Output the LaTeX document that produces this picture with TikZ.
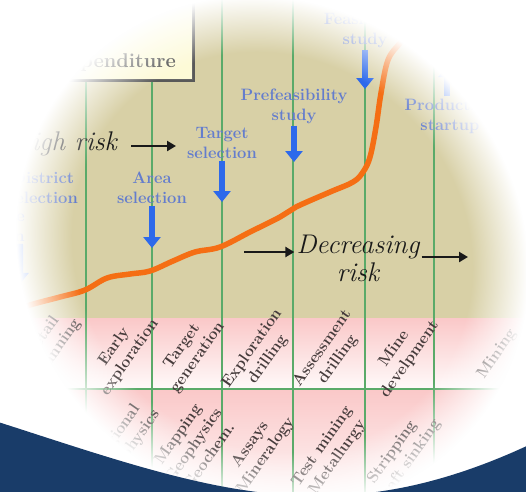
\documentclass[tikz,border=0pt]{standalone}
\usepackage{fontspec}
\usepackage{xcolor}
\usetikzlibrary{arrows.meta,fadings,shadows}

\definecolor{khaki}{RGB}{216,208,166}
\definecolor{cellpink}{RGB}{250,200,200}
\definecolor{gridgreen}{RGB}{90,170,105}
\definecolor{labelblue}{RGB}{100,125,205}
\definecolor{arrowblue}{RGB}{45,105,235}
\definecolor{curveorange}{RGB}{245,110,20}
\definecolor{slidenavy}{RGB}{25,60,105}
\definecolor{boxcream}{RGB}{253,250,215}
\definecolor{stagegray}{RGB}{70,60,60}

\pgfdeclareradialshading{vignshade}{\pgfpointorigin}{color(0bp)=(black); color(19.5bp)=(black); color(25bp)=(white); color(50bp)=(white)}
\pgfdeclarefading{vign}{\pgfuseshading{vignshade}}

\tikzset{
  gridline/.style   = {draw=gridgreen, line width=1.6pt},
  notebox/.style    = {fill=boxcream, draw=black!60, line width=0.8pt,
                       drop shadow={shadow xshift=2pt, shadow yshift=-2pt, fill=black!65, opacity=1}},
  boxtext/.style    = {font=\fontsize{20}{24}\selectfont\bfseries, text=black!70, inner sep=0pt},
  bluelabel/.style  = {font=\fontsize{16.5}{20}\selectfont\bfseries, text=labelblue, align=center, inner sep=2pt},
  bluearrow/.style  = {draw=arrowblue, line width=6.5pt, -{Triangle[width=17pt,length=11pt]}},
  risktext/.style   = {font=\fontsize{27}{28}\selectfont\itshape, text=black!90, align=center, inner sep=2pt},
  riskarrow/.style  = {draw=black!90, line width=2.8pt, -{Triangle[width=10pt,length=9pt]}},
  riskcurve/.style  = {draw=curveorange, line width=5.5pt, line cap=round},
  stagelabel/.style = {font=\fontsize{16}{19}\selectfont\bfseries, text=stagegray, align=center, rotate=55}
}

\begin{document}
\begin{tikzpicture}[x=1pt, y=-1pt]
  \useasboundingbox (0,0) rectangle (526,491);
  \fill[khaki] (-10,-10) rectangle (536,318);
  \shade[top color=cellpink, bottom color=white!90!cellpink] (-10,318) rectangle (536,389);
  \shade[top color=cellpink, bottom color=white!85!cellpink] (-10,389) rectangle (536,501);
  %% stage columns
  \foreach \x in {86,152,222,293,365,434}
    \draw[gridline] (\x,-10) -- (\x,501);
  \draw[gridline] (-10,389) -- (536,389);

  \node[notebox, anchor=south east, minimum width=150pt, minimum height=100pt] (expbox) at (193,80) {};
  \node[boxtext, anchor=base east] (expend) at (176,67) {expenditure};

  \draw[riskcurve] plot[smooth, tension=0.6] coordinates {(5,314) (30,305) (60,297) (85,290) (107,278)
    (130,274) (150,271) (173,261) (195,252) (220,247) (250,232) (280,217) (296,207) (330,192)
    (353,182) (363,172) (370,157) (376,127) (381,93) (388,60) (400,43) (412,28)};

  \node[bluelabel] (district) at (43,188) {District\\selection};
  \node[bluelabel, anchor=east, align=right] (province) at (27,228) {e\\n};
  \node[bluelabel] (area) at (152,188) {Area\\selection};
  \node[bluelabel] (target) at (222,143) {Target\\selection};
  \node[bluelabel] (prefeas) at (294,106) {Prefeasibility\\study};
  \node[bluelabel] (feas) at (365,30) {Feasibility\\study};
  \node[bluelabel] (prod) at (450,116) {Production\\startup};
  \coordinate (provtip) at (20,284);
  \coordinate (areatip) at (152,248);
  \coordinate (targettip) at (222,202);
  \coordinate (prefeastip) at (294,162);
  \coordinate (feastip) at (365,89);
  \coordinate (prodtip) at (447,66);
  \draw[bluearrow] (province) -- (provtip);
  \draw[bluearrow] (area) -- (areatip);
  \draw[bluearrow] (target) -- (targettip);
  \draw[bluearrow] (prefeas) -- (prefeastip);
  \draw[bluearrow] (feas) -- (feastip);
  \draw[bluearrow] (prodtip |- prod.north) -- (prodtip);

  \node[risktext, anchor=base east] (highrisk) at (119,150) {High risk};
  \node[risktext] (decr) at (358,258) {Decreasing\\risk};
  \coordinate (hrtip) at (176,146);
  \coordinate (decrtail) at (244,252);
  \coordinate (decrtip) at (468,257);
  \draw[riskarrow, shorten <=12pt] (highrisk.east |- hrtip) -- (hrtip);
  \draw[riskarrow] (decrtail) -- (decrtail -| decr.west);
  \draw[riskarrow] (decr.east |- decrtip) -- (decrtip);

  \node[stagelabel] (detail) at (50,343) {Detail\\planning};
  \node[stagelabel] (early) at (122,352) {Early\\exploration};
  \node[stagelabel] (targen) at (190,352) {Target\\generation};
  \node[stagelabel] (expdrill) at (260,354) {Exploration\\drilling};
  \node[stagelabel] (assess) at (330,354) {Assessment\\drilling};
  \node[stagelabel] (minedev) at (402,354) {Mine\\develpment};
  \node[stagelabel] (mining) at (497,354) {Mining};
  \node[stagelabel] (regional) at (125,440) {Regional\\geophysics};
  \node[stagelabel] (mapping) at (193,445) {Mapping\\Geophysics\\Geochem.};
  \node[stagelabel] (assays) at (258,450) {Assays\\Mineralogy};
  \node[stagelabel] (testmin) at (330,452) {Test mining\\Metallurgy};
  \node[stagelabel] (strip) at (400,458) {Stripping\\Shaft sinking};

  \fill[white, path fading=vign, fit fading=false,
        fading transform={shift={(272pt,-252pt)}, rotate=-45, xscale=10.6, yscale=9.8}]
    (-10,-10) rectangle (536,501);
  \fill[slidenavy] (-5,421) .. controls (80,448) and (170,480) .. (250,491)
    .. controls (290,497) and (345,497) .. (383,491)
    .. controls (430,484) and (480,468) .. (531,444) -- (531,501) -- (-5,501) -- cycle;
\end{tikzpicture}
\end{document}
